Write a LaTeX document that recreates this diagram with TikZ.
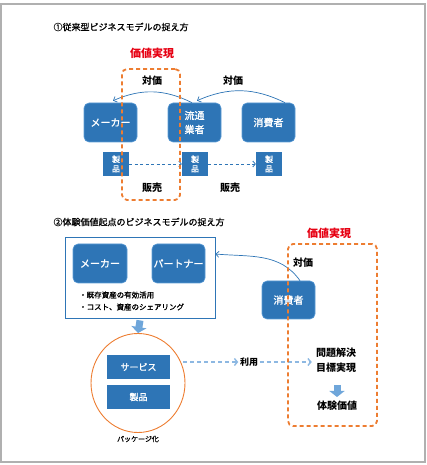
\documentclass[tikz,border=0pt]{standalone}
\usepackage{fontspec}
\setmainfont{Noto Sans CJK JP}
\newfontfamily\mfont{Noto Sans CJK JP}[FakeBold=1.2]
\usetikzlibrary{arrows.meta,shapes.geometric}
\definecolor{nblue}{HTML}{2E75B6}
\definecolor{nbord}{HTML}{5B9BD5}
\definecolor{lblue}{HTML}{8DB8E2}
\definecolor{ablue}{HTML}{6FA6DA}
\definecolor{vorange}{HTML}{ED7D31}
\definecolor{vred}{HTML}{E60012}
\definecolor{framec}{HTML}{B0B0B0}
\begin{document}
\begin{tikzpicture}[x=1pt,y=1pt,
  bnode/.style={fill=nblue, draw=nbord, line width=0.6pt, rounded corners=5pt, text=white,
    minimum width=53pt, minimum height=39pt, inner sep=0pt,
    font=\mfont\fontsize{10}{14}\selectfont, align=center},
  pbox/.style={fill=nblue, text=white, inner sep=0pt, align=center},
  lbl/.style={font=\bfseries\fontsize{10}{12}\selectfont},
  redlbl/.style={text=vred, font=\bfseries\fontsize{11}{12}\selectfont},
  odash/.style={draw=vorange, line width=1.8pt, dash pattern=on 4pt off 3pt, rounded corners=5pt, inner sep=0pt},
  thinarr/.style={draw=nblue, line width=0.7pt, -{Straight Barb[length=3pt,width=6pt]}},
  dasharr/.style={draw=nblue, line width=0.8pt, dash pattern=on 3pt off 2.5pt, -{Straight Barb[length=2.5pt,width=6pt]}},
  ldash/.style={draw=lblue, line width=1.4pt, dash pattern=on 4pt off 3pt, -{Straight Barb[length=3pt,width=7pt]}},
  blk/.style={draw=ablue, line width=7pt, -{Triangle[length=6pt,width=15pt]}},
  ttl/.style={anchor=west, font=\mfont\fontsize{9}{10}\selectfont},
  bul/.style={anchor=west, font=\mfont\fontsize{7.5}{9}\selectfont, inner sep=0pt}
]
\useasboundingbox (0,0) rectangle (427,465);
\draw[framec, line width=1.2pt] (1,3) rectangle (425,461);

% ---------- Section 1 ----------
\node[ttl] (t1) at (50,438) {①従来型ビジネスモデルの捉え方};
\node[redlbl] (red1) at (152,412) {価値実現};

\node[bnode] (mk1) at (110.5,342.5) {メーカー};
\node[bnode] (ry) at (194.5,342.5) {流通\\業者};
\node[bnode] (cs1) at (268.5,342.5) {消費者};

\node[pbox, minimum width=26pt, minimum height=24pt, font=\mfont\fontsize{8}{9.5}\selectfont] (p1) at (116,301) {製\\品};
\node[pbox, minimum width=26pt, minimum height=24pt, font=\mfont\fontsize{8}{9.5}\selectfont] (p2) at (195,301) {製\\品};
\node[pbox, minimum width=26pt, minimum height=24pt, font=\mfont\fontsize{8}{9.5}\selectfont] (p3) at (269,301) {製\\品};

\draw[dasharr] (p1) -- (p2);
\draw[dasharr] (p2) -- (p3);

\draw[thinarr] ([xshift=-2.5pt]ry.north) to[bend right=25] ([shift={(2.5pt,2pt)}]mk1.north);
\draw[thinarr] ([xshift=16.5pt]cs1.north) to[bend right=25] ([shift={(2.5pt,2pt)}]ry.north);

\node[lbl] (tk1) at (152,384) {対価};
\node[lbl] (tk2) at (233,384) {対価};
\node[lbl] (hb1) at (152,277) {販売};
\node[lbl] (hb2) at (230,277) {販売};

\node[odash, minimum width=58pt, minimum height=131pt] (vr1) at (151,330.5) {};

% ---------- Section 2 ----------
\node[ttl] (t2) at (50,243) {②体験価値起点のビジネスモデルの捉え方};
\node[redlbl] (red2) at (329,232) {価値実現};

\node[draw=nblue, line width=0.8pt, minimum width=150pt, minimum height=81pt, inner sep=0pt] (big) at (140,187.5) {};
\node[bnode, minimum width=54pt] (mk2) at (100,201.5) {メーカー};
\node[bnode] (pt) at (178.5,201.5) {パートナー};
\node[bul] (b1) at (79,170) {・既存資産の有効活用};
\node[bul] (b2) at (79,158) {・コスト、資産のシェアリング};

\node[ellipse, draw=vorange, line width=0.9pt, minimum width=94pt, minimum height=99pt, inner sep=0pt] (circ) at (138,82) {};
\node[pbox, minimum width=63pt, minimum height=24pt, font=\mfont\fontsize{9}{10}\selectfont] (sv) at (138.5,98) {サービス};
\node[pbox, minimum width=63pt, minimum height=24pt, font=\mfont\fontsize{9}{10}\selectfont] (sh) at (138.5,68) {製品};
\node[font=\mfont\fontsize{7}{8}\selectfont] (pk) at (138,26) {パッケージ化};

\draw[blk] ([yshift=-2pt]big.south) -- (circ.north);

\node[font=\bfseries\fontsize{9}{10}\selectfont, inner sep=1.5pt] (ryo) at (249,103) {利用};
\node[lbl, align=center, font=\bfseries\fontsize{10}{15}\selectfont, inner sep=2pt] (mon) at (336,104.5) {問題解決\\目標実現};
\node[lbl] (tv) at (337,59) {体験価値};

\draw[ldash] ([xshift=-2pt]circ.east |- ryo) -- (ryo.west);
\draw[ldash, shorten >=2pt] (ryo.east) -- (mon.west |- ryo);

\coordinate (a2s) at (337,80);
\coordinate (a2e) at (337,68);
\draw[blk] (a2s) -- (a2e);

\node[bnode, minimum height=38pt] (cs2) at (288.5,165) {消費者};
\node[lbl] (tk3) at (303,202) {対価};
\draw[thinarr] ([xshift=11.5pt]cs2.north) to[out=125,in=-5] ([yshift=23.5pt]big.east);

\node[odash, minimum width=89pt, minimum height=182pt] (vr2) at (332.5,130) {};
\end{tikzpicture}
\end{document}
